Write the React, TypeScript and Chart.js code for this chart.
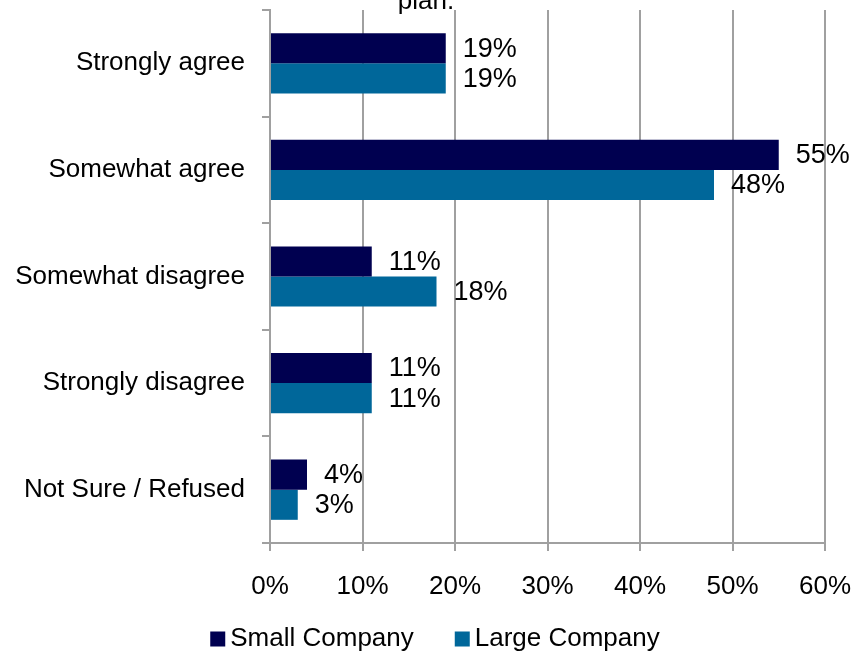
import React, { useEffect, useRef } from "react";
import { Chart, registerables } from "chart.js";

Chart.register(...registerables);

const categories = ["Strongly agree", "Somewhat agree", "Somewhat disagree", "Strongly disagree", "Not Sure / Refused"];
const smallCompany = [19, 55, 11, 11, 4];
const largeCompany = [19, 48, 18, 11, 3];
const seriesNames = ["Small Company", "Large Company"];
const titleTail = "plan.";
const xMax = 60;
const xStep = 10;

const FONT = "'Liberation Sans', Arial, sans-serif";
const DARK = "#000050";
const LIGHT = "#00679A";
const GRID = "#a0a0a0";

const labelPlugin = {
  id: "valueLabels",
  afterDatasetsDraw(chart: any) {
    const ctx = chart.ctx;
    ctx.save();
    ctx.font = `27px ${FONT}`;
    ctx.fillStyle = "#000";
    ctx.textAlign = "left";
    ctx.textBaseline = "middle";
    chart.data.datasets.forEach((ds: any, di: number) => {
      const meta = chart.getDatasetMeta(di);
      meta.data.forEach((bar: any, i: number) => {
        ctx.fillText(ds.data[i] + "%", bar.x + 17, bar.y + 1);
      });
    });
    ctx.restore();
  },
};

const titlePlugin = {
  id: "clippedTitle",
  afterDraw(chart: any) {
    const ctx = chart.ctx;
    ctx.save();
    ctx.font = `26px ${FONT}`;
    ctx.fillStyle = "#000";
    ctx.textAlign = "center";
    ctx.textBaseline = "alphabetic";
    ctx.fillText(titleTail, 426, 9);
    ctx.restore();
  },
};

const legendPlugin = {
  id: "customLegend",
  afterDraw(chart: any) {
    const ctx = chart.ctx;
    ctx.save();
    ctx.font = `26px ${FONT}`;
    ctx.textBaseline = "middle";
    ctx.textAlign = "left";
    const box = 15;
    const gap = 5;
    const itemGap = 41;
    const items = chart.data.datasets.map((ds: any) => ({
      label: ds.label,
      color: ds.backgroundColor,
      w: box + gap + ctx.measureText(ds.label).width,
    }));
    const total = items.reduce((s: number, it: any) => s + it.w, 0) + itemGap * (items.length - 1);
    let x = 435 - total / 2;
    const y = 639;
    items.forEach((it: any) => {
      ctx.fillStyle = it.color;
      ctx.fillRect(x, y - box / 2, box, box);
      ctx.fillStyle = "#000";
      ctx.fillText(it.label, x + box + gap, y);
      x += it.w + itemGap;
    });
    ctx.restore();
  },
};

export default function App() {
  const ref = useRef<HTMLCanvasElement | null>(null);
  useEffect(() => {
    if (!ref.current) return;
    const chart = new Chart(ref.current, {
      type: "bar",
      data: {
        labels: categories,
        datasets: [
          { label: seriesNames[0], data: smallCompany, backgroundColor: DARK, borderWidth: 0 },
          { label: seriesNames[1], data: largeCompany, backgroundColor: LIGHT, borderWidth: 0 },
        ],
      },
      options: {
        indexAxis: "y",
        responsive: false,
        animation: false,
        maintainAspectRatio: false,
        layout: { padding: { top: 10, right: 31, left: 0, bottom: 36 } },
        datasets: { bar: { barPercentage: 1, categoryPercentage: 0.565 } },
        plugins: {
          legend: { display: false },
          title: { display: false },
          tooltip: { enabled: false },
        },
        scales: {
          x: {
            min: 0,
            max: xMax,
            ticks: {
              stepSize: xStep,
              callback: (v: any) => v + "%",
              color: "#000",
              font: { family: FONT, size: 26 },
              padding: 20,
              maxRotation: 0,
            },
            grid: { color: GRID, lineWidth: 2, tickLength: 8, drawTicks: true },
            border: { color: GRID, width: 2 },
            afterFit: (scale: any) => {
              scale.height = 75;
              scale.paddingLeft = 0;
              scale.paddingRight = 0;
            },
          },
          y: {
            ticks: {
              color: "#000",
              font: { family: FONT, size: 26 },
              padding: 17,
            },
            grid: { drawOnChartArea: false, drawTicks: true, tickLength: 8, color: GRID, lineWidth: 2, offset: true },
            border: { color: GRID, width: 2 },
            afterFit: (scale: any) => {
              scale.width = 270;
              scale.paddingTop = 0;
              scale.paddingBottom = 0;
            },
          },
        },
      },
      plugins: [labelPlugin, titlePlugin, legendPlugin],
    });
    return () => chart.destroy();
  }, []);
  return (
    <div style={{ position: "absolute", left: 0, top: 0, width: 856, height: 654, background: "#fff" }}>
      <canvas ref={ref} width={856} height={654} style={{ display: "block" }} />
    </div>
  );
}
